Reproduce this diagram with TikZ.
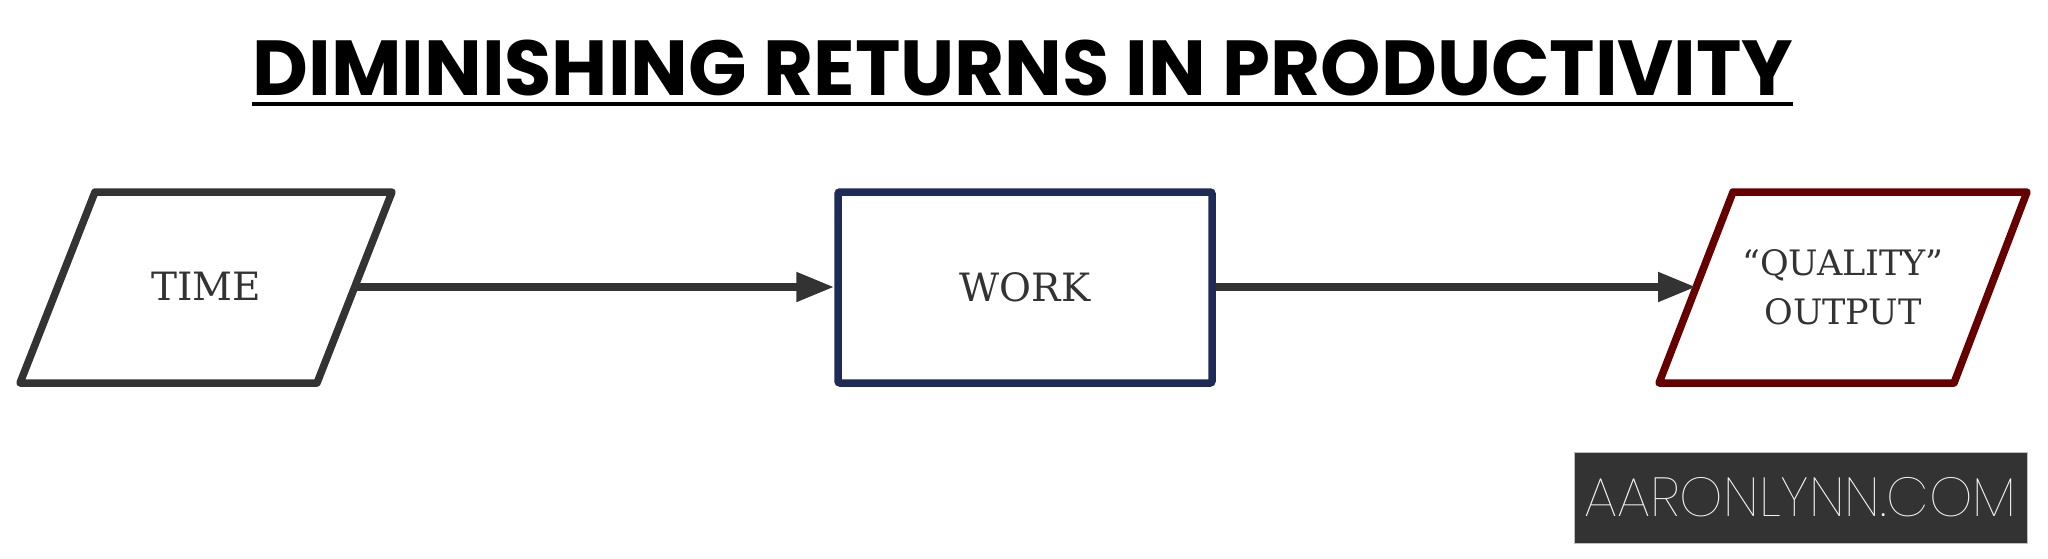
\documentclass[tikz,border=0pt]{standalone}
\usepackage{fontspec}
\setmainfont{DejaVu Serif}
\newfontfamily\titlefont{Poppins}
\newfontfamily\logofont{Poppins Thin}
\usetikzlibrary{arrows.meta}
\definecolor{linegray}{HTML}{333333}
\definecolor{navy}{HTML}{1F2B57}
\definecolor{darkred}{HTML}{660000}
\begin{document}
\begin{tikzpicture}[x=1pt,y=-1pt,
  shapeline/.style={line width=7.5pt, line join=round},
  lbl/.style={font=\fontsize{39}{49}\selectfont, text=linegray, align=center, inner sep=0pt},
  conn/.style={line width=8pt, draw=linegray, -{Triangle[length=38pt,width=28pt]}}]
\useasboundingbox (0,0) rectangle (2048,559);
% title
\node[inner sep=0pt, font=\titlefont\bfseries\fontsize{78}{80}\selectfont] (title) at (1023,68.5) {\scalebox{0.985}[1]{DIMINISHING RETURNS IN PRODUCTIVITY}};
\coordinate (ulA) at (252,104);
\coordinate (ulB) at (1793,104);
\draw[line width=4pt] (ulA) -- (ulB);
% time
\draw[shapeline, draw=linegray] (20,383) -- (95,192) -- (392,192) -- (317,383) -- cycle;
\node[lbl] (time) at (206,286) {TIME};
\coordinate (timeE) at (354.5,287);
% work
\node[lbl, draw=navy, line width=7.5pt, rounded corners=2pt, minimum width=374pt, minimum height=191pt] (work) at (1025,287.5) {WORK};
% output
\draw[shapeline, draw=darkred] (1659,383) -- (1733,192) -- (2027,192) -- (1954,383) -- cycle;
\node[lbl, font=\fontsize{35}{49}\selectfont] (out) at (1843,287.5) {“QUALITY”\\OUTPUT};
\coordinate (outW) at (1696,287);
% connectors
\draw[conn] (timeE) -- (timeE -| work.west);
\draw[conn] (work.east |- outW) -- (outW);
% logo
\node[fill=linegray, draw=gray!50, line width=1pt, minimum width=453pt, minimum height=91pt, text=white!92!gray, font=\logofont\fontsize{55}{55}\selectfont] (logo) at (1800.5,497.5) {AARONLYNN.COM};
\end{tikzpicture}
\end{document}
